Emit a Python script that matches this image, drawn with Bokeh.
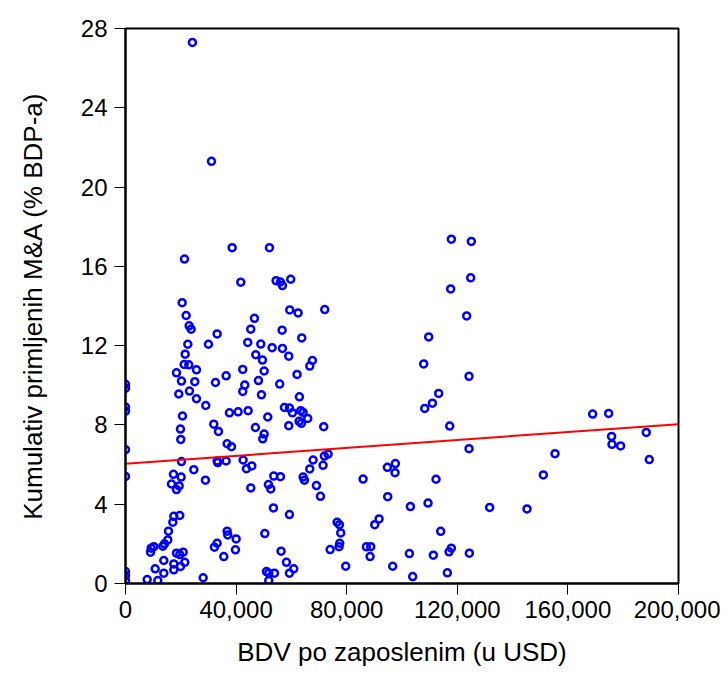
from bokeh.plotting import figure
from bokeh.models import Range1d, FixedTicker, NumeralTickFormatter, ColumnDataSource
from bokeh.embed import file_html
from bokeh.resources import INLINE

# BDV po zaposlenim (u USD)
gdp_per_employee = [
    0, 0, 0, 0, 0, 0, 0, 0, 0,
    24200, 31100,
    21330, 38570, 52060, 41690, 54470, 56030, 56760, 59760, 20490, 21940,
    23020, 23740, 46630, 59400, 62420, 33140, 30000, 22530, 45300, 56640,
    63740, 44210, 48920, 53020, 56760, 21580, 47110, 49530, 59040, 21220,
    22890, 25670, 18440, 20240, 25060, 42410, 50140, 36390, 32540, 48080,
    43130, 55770, 62050, 66640, 67600, 19270, 23140, 25670, 42410, 49160,
    62900,
    29030, 20610, 19880, 19990, 31930, 33620, 37600, 40740, 44350, 51450,
    46990, 50140, 49640, 36760, 38320, 57480, 59290, 60370, 63380, 64230,
    62780, 63620, 59040, 20240, 33140, 33380, 36390, 42530, 43740, 45670,
    24700, 17350, 20120, 28920, 16630, 18440, 19400, 45300, 51690, 52540,
    53620, 56030, 64230, 64710, 66640, 67850, 53500, 59290,
    19630, 17470, 17110, 15540, 15290, 14100, 13490, 10240, 9280, 9040,
    18440, 20860, 19630, 13850, 17470, 21440, 19880, 17470, 10740, 13850,
    7840, 11680, 28090, 36760, 36990, 40020, 33140, 32170, 39770, 35540,
    50380, 56270, 58200, 59290, 60850, 50980, 51810, 53860, 51810,
    117850, 125080, 124840, 117610, 123390, 109660, 107850, 124240, 113270,
    72060, 111000,
    108210, 117250, 124240, 65900, 71690, 71930, 73260, 71450, 69050, 70490,
    85930, 94710, 97600, 97480, 112310, 94830, 103030, 109420, 131700,
    76520, 77360, 77840, 77480, 77240, 74000, 91710, 90140, 113990, 87120,
    88690, 88450, 79640, 96630, 102670, 111340, 117010, 117850, 124360,
    103870, 116400,
    168950, 174740, 175800, 175940, 179060, 188340, 189430, 155340, 151110,
    145210,
]

# Kumulativ primljenih M&A (% BDP-a)
cumulative_mna = [
    10.05, 9.85, 8.9, 8.7, 6.75, 5.4, 0.6, 0.4, 0.15,
    27.3, 21.3,
    16.37, 16.94, 16.94, 15.2, 15.28, 15.21, 15.03, 15.35, 14.17, 13.52,
    13.0, 12.83, 13.38, 13.8, 13.65, 12.59, 12.07, 12.07, 12.83, 12.78,
    12.39, 12.16, 12.08, 11.9, 11.86, 11.57, 11.54, 11.27, 11.47, 11.05,
    11.03, 10.78, 10.63, 10.21, 10.18, 10.8, 10.72, 10.48, 10.14, 10.24,
    10.01, 10.06, 10.55, 10.97, 11.25, 9.56, 9.71, 9.32, 9.69, 9.52,
    9.42,
    8.98, 8.45, 7.79, 7.27, 8.04, 7.67, 8.61, 8.66, 8.72, 8.4,
    7.87, 7.54, 7.3, 7.05, 6.9, 8.88, 8.85, 8.61, 8.72, 8.63,
    8.18, 8.08, 7.96, 6.15, 6.18, 6.1, 6.18, 6.23, 5.79, 5.93,
    5.74, 5.51, 5.37, 5.21, 5.02, 4.74, 4.92, 4.82, 4.99, 4.77,
    5.42, 5.39, 5.37, 5.21, 5.78, 6.23, 3.81, 3.48,
    3.43, 3.39, 3.09, 2.64, 2.2, 2.0, 1.88, 1.86, 1.78, 1.58,
    1.53, 1.58, 1.46, 1.16, 0.99, 1.07, 0.86, 0.69, 0.74, 0.52,
    0.2, 0.15, 0.29, 2.64, 2.45, 2.25, 2.03, 1.83, 1.7, 1.36,
    2.52, 1.63, 1.07, 0.52, 0.74, 0.6, 0.52, 0.52, 0.15,
    17.37, 17.26, 15.42, 14.86, 13.5, 12.44, 11.08, 10.45, 9.59,
    13.82, 9.1,
    8.83, 7.94, 6.8, 8.33, 7.91, 6.43, 6.53, 5.96, 4.94, 4.4,
    5.27, 5.86, 6.05, 5.59, 5.26, 4.38, 3.88, 4.06, 3.84,
    3.09, 2.97, 2.55, 2.03, 1.86, 1.71, 3.26, 2.97, 2.63, 1.85,
    1.86, 1.36, 0.87, 0.87, 1.51, 1.43, 1.6, 1.78, 1.53,
    0.35, 0.54,
    8.55, 8.58, 7.42, 7.02, 6.94, 7.62, 6.25, 6.55, 5.48,
    3.76,
]

# Regression line (endpoints)
fit_x = [0, 200000]
fit_y = [6.04, 8.04]

x_ticks = [0, 40000, 80000, 120000, 160000, 200000]
y_ticks = [0, 4, 8, 12, 16, 20, 24, 28]

FONT = "Liberation Sans"

p = figure(width=720, height=687, output_backend="svg", toolbar_location=None,
           x_range=Range1d(0, 200000), y_range=Range1d(0, 28),
           min_border_left=125, min_border_right=42, min_border_top=28, min_border_bottom=104)

p.background_fill_color = "white"
p.border_fill_color = "white"
p.outline_line_color = "black"
p.outline_line_width = 2
p.xgrid.visible = False
p.ygrid.visible = False

src = ColumnDataSource(dict(x=gdp_per_employee, y=cumulative_mna))
p.scatter("x", "y", source=src, marker="circle", size=7, line_width=2.5,
          line_color="#0000FF", fill_color=None)
p.line(fit_x, fit_y, line_color="#FF0000", line_width=2)

for ax in (p.xaxis[0], p.yaxis[0]):
    ax.axis_line_color = "black"
    ax.axis_line_width = 2
    ax.major_tick_line_color = "black"
    ax.major_tick_line_width = 1
    ax.major_tick_out = 11
    ax.major_tick_in = 0
    ax.minor_tick_line_color = None
    ax.major_label_text_font = FONT
    ax.major_label_text_font_size = "24px"
    ax.major_label_text_color = "black"
    ax.axis_label_text_font = FONT
    ax.axis_label_text_font_size = "26px"
    ax.axis_label_text_font_style = "normal"
    ax.axis_label_text_color = "black"

p.xaxis.ticker = FixedTicker(ticks=x_ticks)
p.yaxis.ticker = FixedTicker(ticks=y_ticks)
p.xaxis.formatter = NumeralTickFormatter(format="0,0")
p.xaxis.major_label_standoff = 6
p.yaxis.major_label_standoff = 7
p.xaxis.axis_label = "BDV po zaposlenim (u USD)"
p.yaxis.axis_label = "Kumulativ primljenih M&A (% BDP-a)"
p.xaxis.axis_label_standoff = 16
p.yaxis.axis_label_standoff = 30

open("out.html", "w").write(file_html(p, INLINE))
